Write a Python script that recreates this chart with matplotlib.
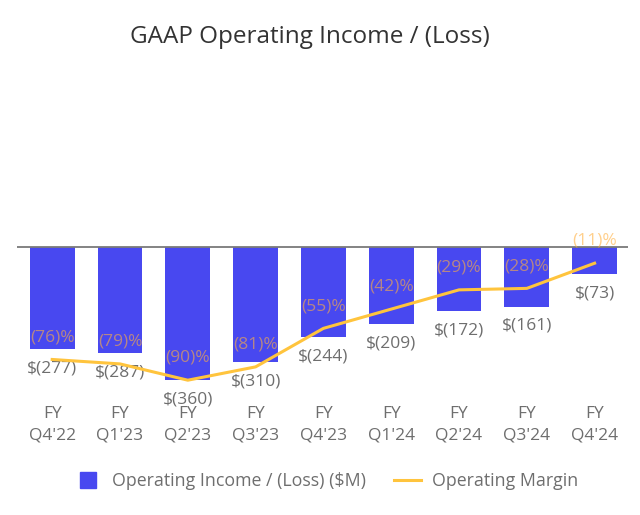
"""
GAAP operating income / (loss) by quarter, with operating margin line.
"""

import matplotlib.pyplot as plt
import numpy as np
from matplotlib.lines import Line2D

plt.rcParams['font.family'] = ['Open Sans', 'DejaVu Sans']

quarters = ["FY\nQ4'22", "FY\nQ1'23", "FY\nQ2'23", "FY\nQ3'23", "FY\nQ4'23",
            "FY\nQ1'24", "FY\nQ2'24", "FY\nQ3'24", "FY\nQ4'24"]
op_income = [-277, -287, -360, -310, -244, -209, -172, -161, -73]
op_margin = [-76, -79, -90, -81, -55, -42, -29, -28, -11]

BAR_COLOR = '#4848F0'
LINE_COLOR = '#FFC43D'
GREY = '#6E6E6E'


def main():
    fig = plt.figure(figsize=(6.4, 5.15), dpi=100)
    ax = fig.add_axes([0.027, 0.233, 0.954, 0.647])
    x = np.arange(len(quarters))

    # bars
    ax.bar(x, op_income, width=0.66, color=BAR_COLOR, zorder=2)
    ax.axhline(0, color='#7a7a7a', lw=1.3, zorder=3)
    for xi, v in zip(x, op_income):
        ax.annotate(f'$({abs(v)})', (xi, v), xytext=(0, -14),
                    textcoords='offset points', ha='center', va='center',
                    fontsize=12.5, color=GREY)
    ax.set_ylim(-400, 500)
    ax.set_xlim(-0.515, 8.49)
    ax.set_yticks([])
    ax.set_xticks(x)
    ax.set_xticklabels(quarters, fontsize=12.5, color=GREY, linespacing=1.45)
    ax.tick_params(axis='x', length=0, pad=8)
    for s in ax.spines.values():
        s.set_visible(False)

    # margin line on a second axis sharing the zero line
    ax2 = ax.twinx()
    ax2.plot(x, op_margin, color=LINE_COLOR, lw=2.2, zorder=4)
    ax2.set_ylim(-100, 125)
    ax2.set_yticks([])
    for s in ax2.spines.values():
        s.set_visible(False)
    for xi, m in zip(x, op_margin):
        ax2.annotate(f'({abs(m)})%', (xi, m), xytext=(0, 16),
                     textcoords='offset points', ha='center', va='center',
                     fontsize=12.5, color='#FFB040', alpha=0.6)

    fig.suptitle('GAAP Operating Income / (Loss)', x=0.484, y=0.928,
                 va='center', fontsize=17.5, color='#333333')

    handles = [
        Line2D([], [], marker='s', ls='none', markersize=12,
               color=BAR_COLOR),
        Line2D([], [], color=LINE_COLOR, lw=2.2),
    ]
    labels = ['Operating Income / (Loss) ($M)', 'Operating Margin']
    leg = fig.legend(handles, labels, loc='center', ncol=2,
                     bbox_to_anchor=(0.51, 0.066), frameon=False,
                     fontsize=12.8, handlelength=1.5, columnspacing=1.6,
                     handletextpad=0.6)
    for t in leg.get_texts():
        t.set_color(GREY)

    fig.savefig('out.png', dpi=100)


if __name__ == '__main__':
    main()
